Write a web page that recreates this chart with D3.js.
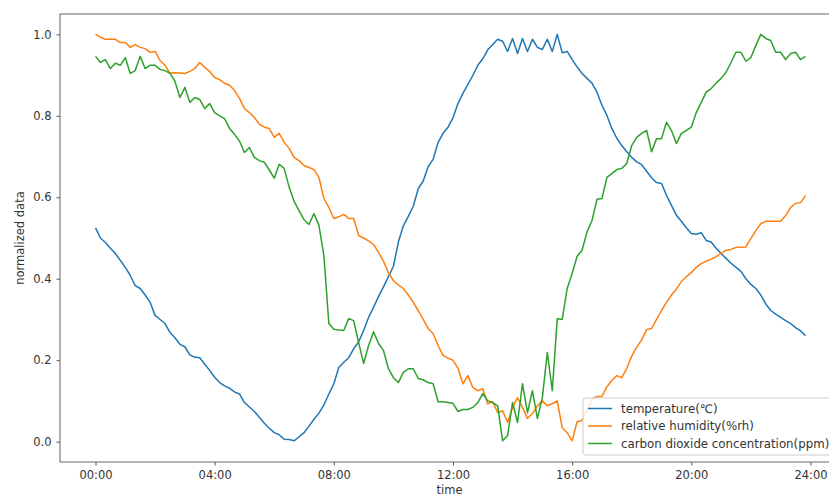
<!DOCTYPE html>
<html>
<head>
<meta charset="utf-8">
<title>normalized data</title>
<script src="https://d3js.org/d3.v7.min.js"></script>
<style>
  body { margin: 0; background: #fff; }
  svg text { font-family: "DejaVu Sans", sans-serif; fill: #333; }
</style>
</head>
<body>
<div id="chart"></div>
<script>
// samples every 10 minutes, 00:00 .. 23:50
var minutes = d3.range(0, 1440, 10);

var temperature = [
  0.525,0.500,0.489,0.475,0.462,0.445,0.428,0.408,0.383,0.376,0.360,0.342,0.310,0.300,0.290,0.268,
  0.255,0.239,0.233,0.213,0.207,0.206,0.190,0.175,0.158,0.145,0.137,0.131,0.122,0.117,0.096,0.085,
  0.074,0.060,0.045,0.033,0.022,0.017,0.006,0.005,0.002,0.012,0.022,0.038,0.055,0.070,0.090,0.117,
  0.142,0.182,0.195,0.206,0.228,0.245,0.273,0.305,0.330,0.356,0.380,0.405,0.430,0.490,0.530,0.553,
  0.578,0.621,0.640,0.675,0.693,0.735,0.757,0.772,0.795,0.830,0.855,0.877,0.899,0.924,0.940,0.962,
  0.975,0.988,0.983,0.958,0.990,0.953,0.990,0.958,0.988,0.968,0.963,0.988,0.958,1.000,0.955,0.958,
  0.938,0.920,0.904,0.892,0.880,0.858,0.826,0.801,0.769,0.745,0.727,0.712,0.698,0.687,0.680,0.664,
  0.648,0.636,0.634,0.605,0.580,0.556,0.541,0.525,0.511,0.509,0.513,0.494,0.490,0.475,0.462,0.450,
  0.438,0.428,0.418,0.400,0.386,0.376,0.360,0.338,0.322,0.313,0.305,0.297,0.290,0.280,0.272,0.260
];

var humidity = [
  1.000,0.993,0.988,0.988,0.988,0.980,0.980,0.968,0.975,0.968,0.965,0.956,0.958,0.936,0.924,0.905,
  0.906,0.905,0.904,0.909,0.916,0.931,0.919,0.909,0.894,0.889,0.880,0.875,0.862,0.843,0.818,0.808,
  0.796,0.779,0.772,0.769,0.747,0.757,0.735,0.720,0.698,0.690,0.678,0.673,0.668,0.649,0.597,0.575,
  0.548,0.552,0.558,0.548,0.548,0.506,0.500,0.493,0.484,0.465,0.443,0.415,0.395,0.385,0.376,0.360,
  0.342,0.322,0.300,0.278,0.265,0.236,0.212,0.205,0.200,0.180,0.142,0.162,0.133,0.125,0.130,0.093,
  0.098,0.071,0.076,0.047,0.084,0.108,0.084,0.057,0.069,0.088,0.100,0.088,0.093,0.100,0.034,0.022,
  0.002,0.049,0.052,0.076,0.105,0.111,0.111,0.135,0.150,0.162,0.157,0.180,0.210,0.232,0.250,0.275,
  0.278,0.300,0.322,0.342,0.360,0.375,0.393,0.405,0.415,0.428,0.437,0.443,0.448,0.454,0.462,0.470,
  0.472,0.477,0.477,0.478,0.499,0.518,0.535,0.541,0.541,0.541,0.541,0.555,0.575,0.585,0.587,0.604
];

var co2 = [
  0.946,0.931,0.938,0.916,0.929,0.924,0.943,0.904,0.911,0.946,0.916,0.924,0.924,0.914,0.911,0.904,
  0.885,0.845,0.870,0.833,0.845,0.840,0.818,0.830,0.808,0.800,0.793,0.769,0.755,0.738,0.710,0.722,
  0.698,0.690,0.686,0.667,0.647,0.681,0.671,0.625,0.590,0.567,0.545,0.533,0.560,0.531,0.457,0.290,
  0.276,0.274,0.273,0.302,0.297,0.243,0.192,0.236,0.270,0.241,0.224,0.179,0.157,0.145,0.170,0.179,
  0.179,0.155,0.152,0.145,0.142,0.098,0.098,0.096,0.094,0.074,0.079,0.079,0.084,0.096,0.118,0.100,
  0.096,0.088,0.002,0.015,0.096,0.047,0.142,0.071,0.125,0.057,0.108,0.219,0.125,0.302,0.300,0.376,
  0.413,0.455,0.470,0.515,0.543,0.595,0.597,0.649,0.658,0.668,0.671,0.683,0.727,0.747,0.757,0.764,
  0.712,0.744,0.744,0.784,0.764,0.732,0.757,0.764,0.772,0.808,0.833,0.858,0.867,0.880,0.892,0.907,
  0.931,0.956,0.956,0.934,0.943,0.973,1.000,0.990,0.985,0.956,0.956,0.938,0.953,0.956,0.938,0.946
];

var seriesNames = ["temperature(\u2103)", "relative humidity(%rh)", "carbon dioxide concentration(ppm)"];
var seriesColors = ["#1f77b4", "#ff7f0e", "#2ca02c"];
var xTickHours = [0, 4, 8, 12, 16, 20, 24];
var yTicks = [0.0, 0.2, 0.4, 0.6, 0.8, 1.0];

var W = 829, H = 496;
var pLeft = 60, pTop = 14, pRight = 841, pBottom = 462;

var svg = d3.select("#chart").append("svg")
    .attr("width", W).attr("height", H);

// matplotlib style 5% margins around the data
var x = d3.scaleLinear().domain([-71.5, 1501.5]).range([pLeft, pRight]);
var y = d3.scaleLinear().domain([-0.05, 1.05]).range([pBottom, pTop]);

var plot = svg.append("g");

var line = d3.line()
    .x(function(d, i) { return x(minutes[i]); })
    .y(function(d) { return y(d); });

[temperature, humidity, co2].forEach(function(s, k) {
  plot.append("path")
      .datum(s)
      .attr("fill", "none")
      .attr("stroke", seriesColors[k])
      .attr("stroke-width", 1.5)
      .attr("stroke-linejoin", "round")
      .attr("d", line);
});

// axes
var xAxis = d3.axisBottom(x)
    .tickValues(xTickHours.map(function(h) { return h * 60; }))
    .tickFormat(function(m) { return d3.format("02d")(m / 60) + ":00"; })
    .tickSize(3.5).tickPadding(5);
var yAxis = d3.axisLeft(y)
    .tickValues(yTicks)
    .tickFormat(d3.format(".1f"))
    .tickSize(3.5).tickPadding(5);

var gx = svg.append("g").attr("transform", "translate(0," + pBottom + ")").call(xAxis);
var gy = svg.append("g").attr("transform", "translate(" + pLeft + ",0)").call(yAxis);
[gx, gy].forEach(function(g) {
  g.select(".domain").remove();
  g.selectAll(".tick line").attr("stroke", "#555");
  g.selectAll(".tick text").attr("font-size", 11.5).attr("fill", "#333")
      .style("font-family", "DejaVu Sans, sans-serif");
});

// frame
svg.append("rect")
    .attr("x", pLeft).attr("y", pTop)
    .attr("width", pRight - pLeft).attr("height", pBottom - pTop)
    .attr("fill", "none").attr("stroke", "#666").attr("stroke-width", 1);

// axis labels
svg.append("text")
    .attr("x", (pLeft + pRight) / 2 - 1).attr("y", 494)
    .attr("text-anchor", "middle").attr("font-size", 11.5)
    .text("time");
svg.append("text")
    .attr("transform", "translate(24," + ((pTop + pBottom) / 2) + ") rotate(-90)")
    .attr("text-anchor", "middle").attr("font-size", 11.5)
    .text("normalized data");

// legend
var lg = svg.append("g").attr("transform", "translate(583,398)");
lg.append("rect")
    .attr("x", 0).attr("y", 0).attr("width", 260).attr("height", 57)
    .attr("rx", 3)
    .attr("fill", "#fff").attr("fill-opacity", 0.8)
    .attr("stroke", "#ccc").attr("stroke-width", 1);
seriesNames.forEach(function(name, k) {
  var row = lg.append("g").attr("transform", "translate(0," + (10.5 + k * 17.5) + ")");
  row.append("line")
      .attr("x1", 5).attr("x2", 29).attr("y1", 0).attr("y2", 0)
      .attr("stroke", seriesColors[k]).attr("stroke-width", 1.5);
  row.append("text")
      .attr("x", 38).attr("y", 0).attr("dy", "0.35em")
      .attr("font-size", 11.8)
      .text(name);
});
</script>
</body>
</html>
